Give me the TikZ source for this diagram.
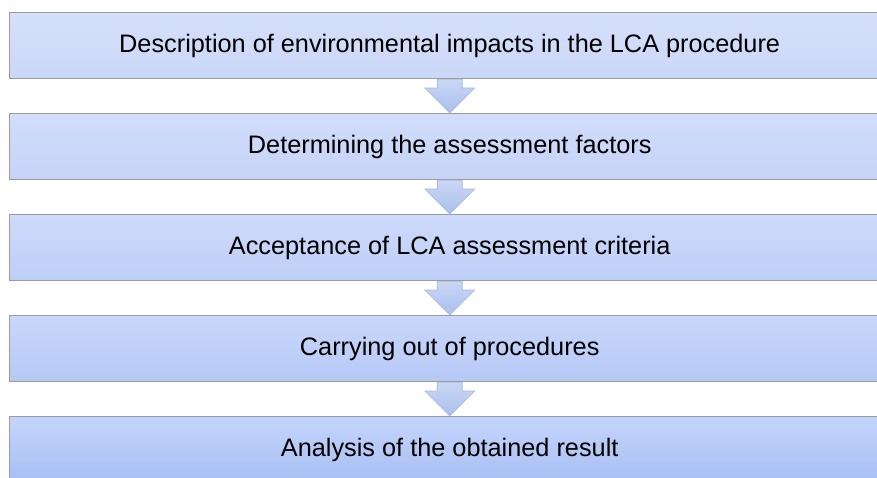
\documentclass[tikz,border=0pt]{standalone}
\usepackage{fontspec}
\setmainfont{Liberation Sans}
\usetikzlibrary{calc,backgrounds}
\definecolor{bordc}{HTML}{9C9C9C}
\definecolor{arrbord}{HTML}{A6B8E0}
\definecolor{aT}{HTML}{CAD7F5}
\definecolor{aB}{HTML}{AABFEC}
\definecolor{t1}{RGB}{214,224,250}\definecolor{u1}{RGB}{203,215,247}
\definecolor{t2}{RGB}{210,221,250}\definecolor{u2}{RGB}{197,211,247}
\definecolor{t3}{RGB}{206,218,251}\definecolor{u3}{RGB}{190,206,246}
\definecolor{t4}{RGB}{201,215,251}\definecolor{u4}{RGB}{182,200,245}
\definecolor{t5}{RGB}{196,212,252}\definecolor{u5}{RGB}{168,191,242}
\begin{document}
\begin{tikzpicture}[x=1pt,y=1pt,
  stepbox/.style 2 args={draw=bordc, line width=1.4pt, top color=#1, bottom color=#2,
     minimum width=880pt, minimum height=66pt, inner sep=0pt, anchor=north west,
     font=\fontsize{25.3}{30}\selectfont},
  blockarrow/.style={draw=arrbord, line width=0.6pt, top color=aT, bottom color=aB}]
\useasboundingbox (0,0) rectangle (877,-477);
\clip (0,0) rectangle (877,-477);
\node[stepbox={t1}{u1}] (b1) at (9,-12) {Description of environmental impacts in the LCA procedure};
\node[stepbox={t2}{u2}] (b2) at (9,-113) {Determining the assessment factors};
\node[stepbox={t3}{u3}] (b3) at (9,-214) {Acceptance of LCA assessment criteria};
\node[stepbox={t4}{u4}] (b4) at (9,-315) {Carrying out of procedures};
\node[stepbox={t5}{u5}] (b5) at (9,-416) {Analysis of the obtained result};
\begin{scope}[on background layer]
\foreach \a/\b in {b1/b2,b2/b3,b3/b4,b4/b5}{
  \draw[blockarrow]
    ($(\a.south)+(-12.5,0)$) -- ($(\b.north)+(-12.5,25)$) -- ($(\b.north)+(-25,25)$)
    -- (\b.north) -- ($(\b.north)+(25,25)$) -- ($(\b.north)+(12.5,25)$)
    -- ($(\a.south)+(12.5,0)$) -- cycle;
}
\end{scope}
\end{tikzpicture}
\end{document}
